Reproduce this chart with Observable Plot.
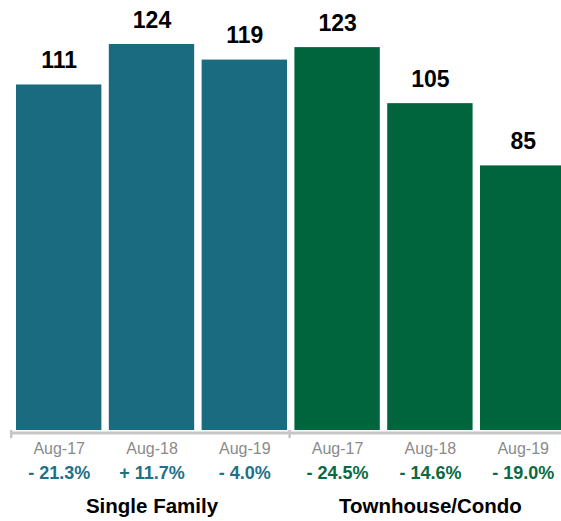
<!DOCTYPE html>
<html>
<head>
<meta charset="utf-8">
<script src="https://cdn.jsdelivr.net/npm/d3@7"></script>
<script src="https://cdn.jsdelivr.net/npm/@observablehq/plot@0.6"></script>
<style>
  html, body { margin: 0; padding: 0; background: #fff; overflow: hidden; }
  #chart svg { font-family: "Liberation Sans", Arial, Helvetica, sans-serif; }
</style>
</head>
<body>
<div id="chart"></div>
<script>
const groups = ["Single Family", "Single Family", "Single Family", "Townhouse/Condo", "Townhouse/Condo", "Townhouse/Condo"];
const months = ["Aug-17", "Aug-18", "Aug-19", "Aug-17", "Aug-18", "Aug-19"];
const values = [111, 124, 119, 123, 105, 85];
const changes = ["- 21.3%", "+ 11.7%", "- 4.0%", "- 24.5%", "- 14.6%", "- 19.0%"];
const groupNames = ["Single Family", "Townhouse/Condo"];
const groupColors = {"Single Family": "#1b6b80", "Townhouse/Condo": "#00643c"};
const textColors = {"Single Family": "#1f7088", "Townhouse/Condo": "#0a6a42"};

const data = values.map((v, i) => ({
  key: groups[i] + "|" + months[i],
  group: groups[i],
  month: months[i],
  value: v,
  change: changes[i]
}));

const groupLabels = groupNames.map(g => ({group: g, key: g + "|Aug-18"}));
const groupStarts = groupNames.map(g => g + "|Aug-17");

const chart = Plot.plot({
  width: 561,
  height: 521,
  marginLeft: 11,
  marginRight: 0,
  marginTop: 0,
  marginBottom: 91,
  x: {type: "band", domain: data.map(d => d.key), range: [12.3, 569.1], round: false, paddingInner: 0.08, paddingOuter: 0.04, axis: null},
  y: {domain: [0, 124], range: [430, 44], axis: null},
  marks: [
    Plot.barY(data, {x: "key", y: "value", fill: d => groupColors[d.group]}),
    Plot.ruleY([0], {dy: 2.5, stroke: "#c6c6c6", strokeWidth: 3}),
    Plot.ruleX(groupStarts, {x: d => d, y1: 0, y2: -2.6, dx: -48, stroke: "#c6c6c6", strokeWidth: 2.5}),
    Plot.text(data, {x: "key", y: "value", text: d => String(d.value), dy: -17, lineAnchor: "bottom", fontSize: 23, fontWeight: "bold", fill: "#000"}),
    Plot.text(data, {x: "key", y: 0, text: "month", dy: 23, lineAnchor: "bottom", fontSize: 16, fill: "#8a8a8a"}),
    Plot.text(data, {x: "key", y: 0, text: "change", dy: 48, lineAnchor: "bottom", fontSize: 18, fontWeight: "bold", fill: d => textColors[d.group]}),
    Plot.text(groupLabels, {x: "key", y: 0, text: "group", dy: 82, lineAnchor: "bottom", fontSize: 20.5, fontWeight: "bold", fill: "#000"})
  ]
});
document.getElementById("chart").append(chart);
</script>
</body>
</html>
